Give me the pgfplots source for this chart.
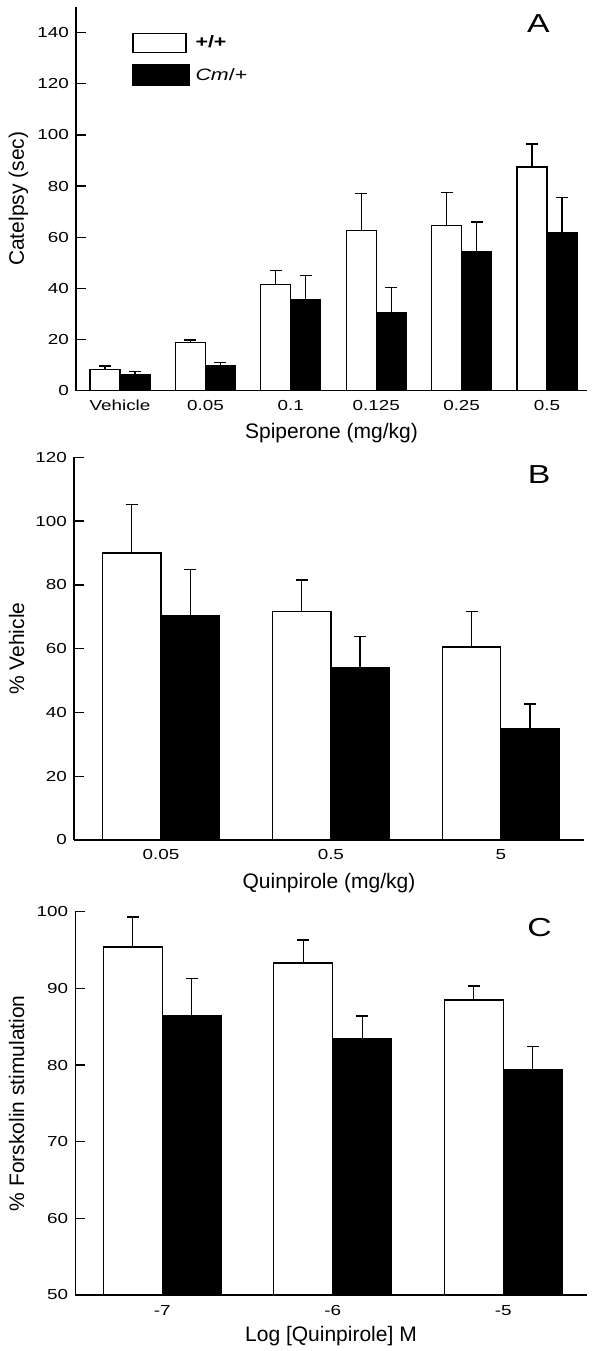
\documentclass[border=0pt]{standalone}
\usepackage{fontspec}
\setmainfont{Liberation Sans}
\newfontfamily\widefont{Liberation Sans}[FakeStretch=1.3]
\usepackage{pgfplots}
\pgfplotsset{compat=1.18}

\pgfplotsset{
 panel/.style={
  scale only axis,
  anchor=south west,
  axis lines*=left,
  axis line style={line width=1.5pt, black},
  tick align=inside,
  major tick length=10pt,
  ytick style={line width=1.3pt, black},
  xtick style={draw=none},
  /pgf/number format/assume math mode=true,
  yticklabel style={font=\widefont\fontsize{14.5}{14.5}\selectfont, anchor=east, inner sep=0pt, xshift=-7pt},
  xticklabel style={font=\widefont\fontsize{14.5}{14.5}\selectfont, anchor=base, inner sep=0pt, yshift=-20pt},
  label style={font=\fontsize{21}{21}\selectfont, inner sep=0pt},
  ylabel style={anchor=base},
  xlabel style={anchor=base},
  clip=false,
 },
 errstyle/.style={
   error bars/y dir=plus, error bars/y explicit,
   error bars/error bar style={line width=1.3pt, black},
   error bars/error mark options={rotate=90, mark size=6pt, line width=1.3pt, black}},
 wbar/.style={ybar, draw=black, fill=white, line width=1.3pt, bar width=#1, bar shift=0pt, errstyle},
 bbar/.style={ybar, draw=black, fill=black, line width=1.3pt, bar width=#1, bar shift=0pt, errstyle},
}

\begin{document}
\begin{tikzpicture}
\useasboundingbox (0pt,0pt) rectangle (598pt,1351pt);

% ---------------- Panel A ----------------
\begin{axis}[panel,
  at={(76pt,960.3pt)}, width=511pt, height=383.7pt,
  xmin=-0.515, xmax=5.468, ymin=0, ymax=150,
  ytick={0,20,...,140},
  xtick={0,1,2,3,4,5},
  xticklabels={Vehicle,0.05,0.1,0.125,0.25,0.5},
  xlabel={Spiperone (mg/kg)},
  ylabel={Catelpsy (sec)},
  xlabel style={at={(axis description cs:0.5,-0.1238)}},
  ylabel style={at={(axis description cs:-0.1018,0.5)}},
  legend style={draw=none, fill=none, at={(axis description cs:0.1096,0.934)}, anchor=north west,
    inner sep=0pt, row sep=11pt,
    nodes={inner sep=0pt, anchor=west, font=\widefont\fontsize{16.5}{16.5}\selectfont},
    /tikz/every odd column/.append style={column sep=6pt}},
  legend cell align=left,
]
\addplot[wbar=30pt,
  legend image code/.code={\draw[line width=1.3pt, draw=black, fill=white] (0pt,-9.5pt) rectangle (53pt,9.5pt);}]
  coordinates {(-0.1756,8.4) +- (0,1.2) (0.8244,18.75) +- (0,1.05) (1.8244,41.5) +- (0,5.6)
               (2.8244,62.5) +- (0,14.6) (3.8244,64.5) +- (0,13.1) (4.8244,87.5) +- (0,8.9)};
\addlegendentry{\textbf{+/+}}
\addplot[bbar=30pt,
  legend image code/.code={\fill[black] (0pt,-10.5pt) rectangle (56pt,10.5pt);}]
  coordinates {(0.1756,6.25) +- (0,1.35) (1.1756,9.8) +- (0,1.3) (2.1756,35.4) +- (0,9.5)
               (3.1756,30.6) +- (0,9.8) (4.1756,54.3) +- (0,11.7) (5.1756,61.9) +- (0,13.6)};
\addlegendentry{\textit{Cm}/+}
\node[anchor=base, inner sep=0pt, font=\widefont\fontsize{26}{26}\selectfont] at (axis description cs:0.905,0.934) {A};
\end{axis}

% ---------------- Panel B ----------------
\begin{axis}[panel,
  at={(74pt,511pt)}, width=510pt, height=382.7pt,
  xmin=-0.512, xmax=2.49, ymin=0, ymax=120,
  ytick={0,20,...,120},
  xtick={0,1,2},
  xticklabels={0.05,0.5,5},
  xlabel={Quinpirole (mg/kg)},
  ylabel={\% Vehicle},
  xlabel style={at={(axis description cs:0.5,-0.128)}},
  ylabel style={at={(axis description cs:-0.098,0.5)}},
]
\addplot[wbar=58.5pt]
  coordinates {(-0.1722,90) +- (0,15.3) (0.8278,71.6) +- (0,9.9) (1.8278,60.5) +- (0,11.1)};
\addplot[bbar=58.5pt]
  coordinates {(0.1722,70.4) +- (0,14.5) (1.1722,53.9) +- (0,9.8) (2.1722,35) +- (0,7.6)};
\node[anchor=base, inner sep=0pt, font=\widefont\fontsize{26}{26}\selectfont] at (axis description cs:0.912,0.932) {B};
\end{axis}

% ---------------- Panel C ----------------
\begin{axis}[panel,
  at={(75.3pt,56pt)}, width=511.4pt, height=383.3pt,
  xmin=-0.510, xmax=2.489, ymin=50, ymax=100,
  ytick={50,60,...,100},
  xtick={0,1,2},
  xticklabels={-7,-6,-5},
  xlabel={Log [Quinpirole] M},
  ylabel={\% Forskolin stimulation},
  xlabel style={at={(axis description cs:0.5,-0.1226)}},
  ylabel style={at={(axis description cs:-0.1003,0.5)}},
]
\addplot[wbar=59pt]
  coordinates {(-0.173,95.4) +- (0,3.9) (0.827,93.3) +- (0,3.0) (1.827,88.5) +- (0,1.8)};
\addplot[bbar=59pt]
  coordinates {(0.173,86.4) +- (0,4.85) (1.173,83.4) +- (0,3.0) (2.173,79.4) +- (0,3.0)};
\node[anchor=base, inner sep=0pt, font=\widefont\fontsize{26}{26}\selectfont] at (axis description cs:0.908,0.935) {C};
\end{axis}
\end{tikzpicture}
\end{document}
